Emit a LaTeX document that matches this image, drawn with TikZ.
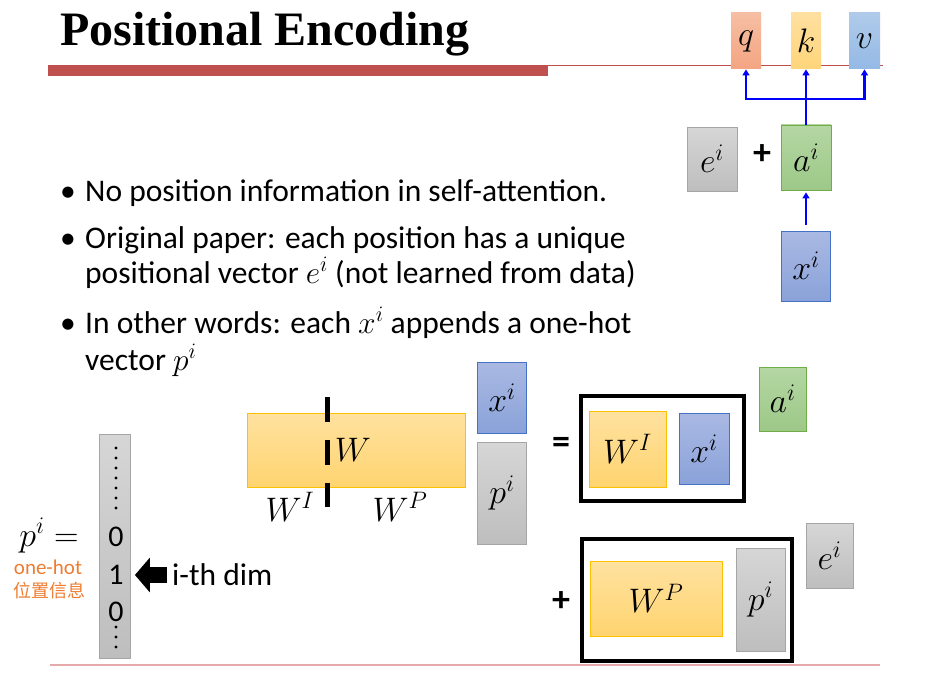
\RequirePackage{fix-cm}
\documentclass[tikz,border=0pt]{standalone}
\usepackage{fontspec}
\setmainfont{Carlito}
\newfontfamily\titlefont{Liberation Serif}
\newfontfamily\cjkfont{Noto Sans CJK SC}
\usetikzlibrary{positioning, arrows.meta}
\definecolor{orangetop}{RGB}{255,226,160}
\definecolor{orangebot}{RGB}{255,212,112}
\definecolor{orangeline}{RGB}{255,192,0}
\definecolor{bluetop}{RGB}{170,185,227}
\definecolor{bluebot}{RGB}{138,162,217}
\definecolor{blueline}{RGB}{68,114,196}
\definecolor{graytop}{RGB}{214,214,214}
\definecolor{graybot}{RGB}{190,190,190}
\definecolor{grayline}{RGB}{165,165,165}
\definecolor{greentop}{RGB}{180,215,163}
\definecolor{greenbot}{RGB}{157,200,136}
\definecolor{greenline}{RGB}{112,173,71}
\definecolor{salmontop}{RGB}{246,190,163}
\definecolor{salmonbot}{RGB}{244,165,130}
\definecolor{ktop}{RGB}{255,224,160}
\definecolor{kbot}{RGB}{255,213,122}
\definecolor{vtop}{RGB}{176,203,234}
\definecolor{vbot}{RGB}{148,185,229}
\definecolor{titlered}{RGB}{192,80,77}
\definecolor{footred}{RGB}{230,170,170}
\definecolor{hotorange}{RGB}{237,125,49}
\newcommand\boxfont{\fontsize{34}{36}\selectfont}
\newcommand\bodyfont{\fontsize{31.5}{34}\selectfont}

\begin{document}
\begin{tikzpicture}[x=1pt, y=-1pt,
    vec/.style={inner sep=0pt, line width=0.8pt, font=\boxfont},
    bluevec/.style={vec, draw=blueline, top color=bluetop, bottom color=bluebot},
    grayvec/.style={vec, draw=grayline, top color=graytop, bottom color=graybot},
    greenvec/.style={vec, draw=greenline, top color=greentop, bottom color=greenbot},
    orangemat/.style={vec, draw=orangeline, top color=orangetop, bottom color=orangebot},
    sumframe/.style={draw, line width=3.5pt, inner sep=0pt},
    link/.style={draw=blue, line width=2.5pt},
    linkarrow/.style={link, -{Triangle[length=6pt,width=7pt]}},
    bigarrow/.style={line width=16pt, -{Triangle[length=15pt,width=34pt]}},
    bodytext/.style={font=\bodyfont, inner sep=0pt},
    signtext/.style={font=\bfseries\fontsize{36}{38}\selectfont, inner sep=0pt}]
    \useasboundingbox (0,0) rectangle (930,685);
    \fill[titlered] (48,65) rectangle (548,76);
    \draw[titlered, line width=1pt] (548,65.5) -- (883,65.5);
    \draw[footred, line width=1.5pt] (50,665) -- (880,665);
    \node[anchor=base west, inner sep=0pt, font={\titlefont\bfseries\fontsize{48}{50}\selectfont}] (title) at (60,46) {Positional Encoding};
    \node[vec, top color=salmontop, bottom color=salmonbot, minimum width=30pt, minimum height=56pt] (q) at (746,41) {$q$};
    \node[vec, top color=ktop, bottom color=kbot, minimum width=30pt, minimum height=56pt] (k) at (806,41) {$k$};
    \node[vec, top color=vtop, bottom color=vbot, minimum width=31pt, minimum height=56pt] (v) at (864.5,41) {$v$};
    \node[grayvec, minimum width=50pt, minimum height=64pt] (e_top) at (712,159) {$e^i$};
    \node[signtext] (plus_top) at (762,155) {+};
    \node[greenvec, minimum width=50pt, minimum height=65pt] (a_top) at (806,157.5) {$a^i$};
    \node[bluevec, minimum width=49pt, minimum height=70pt] (x_top) at (806,266) {$x^i$};
    \coordinate (split) at (806,99);
    \draw[linkarrow, shorten <=6pt, shorten >=2pt] (x_top) -- (a_top);
    \draw[link] (a_top) -- (split);
    \draw[linkarrow] (split) -- (k);
    \draw[linkarrow] (split) -| (q);
    \draw[linkarrow] (split) -| (v);
    \node[bodytext, anchor=base] (dot_1) at (68,201) {•};
    \node[bodytext, anchor=base west] (line_1) at (85,201) {No position information in self-attention.};
    \node[bodytext, anchor=base] (dot_2) at (68,248) {•};
    \node[bodytext, anchor=base west] (line_2) at (85,248) {Original paper: each position has a unique};
    \node[bodytext, anchor=base west] (line_3) at (85,283) {positional vector $e^i$ (not learned from data)};
    \node[bodytext, anchor=base] (dot_3) at (68,333) {•};
    \node[bodytext, anchor=base west] (line_4) at (85,333) {In other words: each $x^i$ appends a one-hot};
    \node[bodytext, anchor=base west] (line_5) at (85,370) {vector $p^i$};
    \node[orangemat, minimum width=218pt, minimum height=74pt] (W) at (356,450) {};
    \draw[line width=5pt, dash pattern=on 25pt off 18pt] (327,397) -- (327,507);
    \node[font=\boxfont] (W_label) at (353,450) {$W$};
    \node[font=\boxfont] (W_I) at (290,507) {$W^I$};
    \node[font=\boxfont] (W_P) at (400,507) {$W^P$};
    \node[bluevec, minimum width=49pt, minimum height=71pt] (x_mid) at (502,397.5) {$x^i$};
    \node[grayvec, minimum width=49pt, minimum height=102pt] (p_mid) at (502,493) {$p^i$};
    \node[signtext] (equal) at (561,445) {=};
    \node[sumframe, minimum width=163pt, minimum height=105pt] (frame_1) at (662.5,448.5) {};
    \node[orangemat, minimum width=77pt, minimum height=76pt] (W_I_box) at (627.5,449) {$W^I$};
    \node[bluevec, minimum width=50pt, minimum height=71pt] (x_box) at (704,448.5) {$x^i$};
    \node[greenvec, minimum width=47pt, minimum height=64pt] (a_box) at (782.5,399) {$a^i$};
    \node[signtext] (plus_mid) at (561,602) {+};
    \node[sumframe, minimum width=210pt, minimum height=122pt] (frame_2) at (687,600) {};
    \node[orangemat, minimum width=132pt, minimum height=75pt] (W_P_box) at (656,598.5) {$W^P$};
    \node[grayvec, minimum width=49pt, minimum height=103pt] (p_box) at (760.5,599.5) {$p^i$};
    \node[grayvec, minimum width=47pt, minimum height=65pt] (e_box) at (829.5,555.5) {$e^i$};
    \node[grayvec, minimum width=31pt, minimum height=224pt] (pvec) at (115,546) {};
    \foreach \yy in {448,458,...,508} \fill (116,\yy) circle (1.7pt);
    \foreach \yy in {627,637,647} \fill (116,\yy) circle (1.7pt);
    \node[font=\fontsize{30}{32}\selectfont] (zero_1) at (116,537) {0};
    \node[font=\fontsize{30}{32}\selectfont] (one) at (116,575) {1};
    \node[font=\fontsize{30}{32}\selectfont] (zero_2) at (116,612) {0};
    \node[font=\boxfont, anchor=base] (p_eq) at (49,546) {$p^i =$};
    \node[font=\fontsize{21}{23}\selectfont, text=hotorange] (onehot) at (48,567) {one-hot};
    \node[font=\cjkfont\fontsize{18}{20}\selectfont, text=hotorange] (onehot_cn) at (49,591) {位置信息};
    \node[bodytext, anchor=west] (dim) at (172,575) {i-th dim};
    \draw[bigarrow, shorten <=5pt, shorten >=4pt] (dim.west) -- (dim.west -| pvec.east);
\end{tikzpicture}
\end{document}
